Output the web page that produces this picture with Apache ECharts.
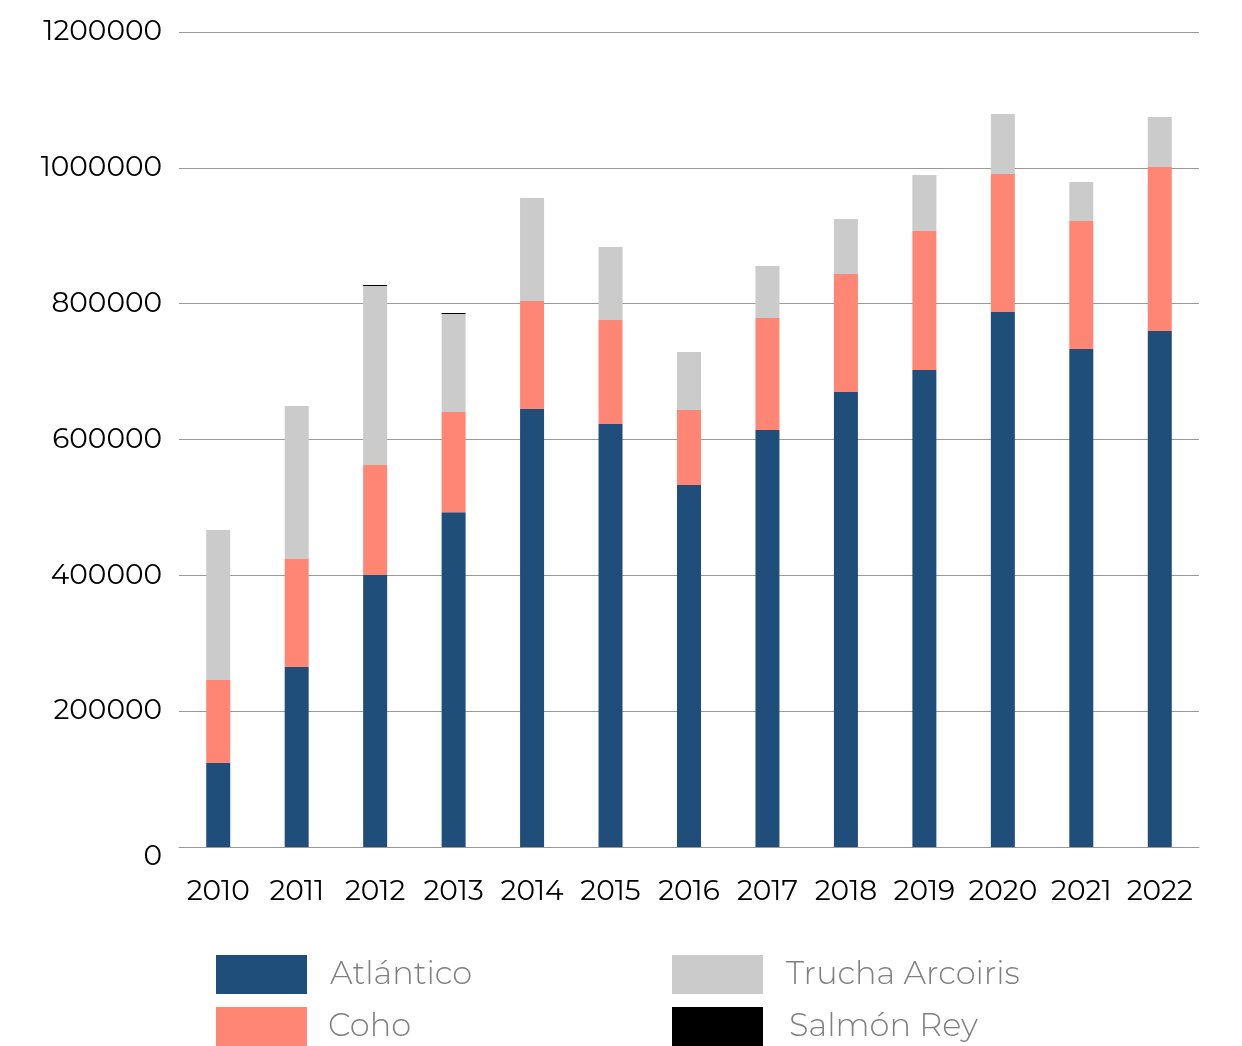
<!DOCTYPE html>
<html><head><meta charset="utf-8">
<script src="https://cdn.jsdelivr.net/npm/echarts@6/dist/echarts.min.js"></script>
<style>html,body{margin:0;padding:0;background:#fff}#c{width:1242px;height:1046px}</style>
</head><body><div id="c"></div>
<script>
const years = ['2010','2011','2012','2013','2014','2015','2016','2017','2018','2019','2020','2021','2022'];
const atlantico = [123700,265000,400500,493000,645000,623000,533000,614000,670000,702300,787700,733300,759800];
const coho = [122200,159000,162000,147500,159000,153000,110400,165000,173700,204700,203200,188400,241400];
const trucha = [220900,225300,263500,144300,151700,107400,85400,76600,81000,82500,88400,57400,73700];
const salmonRey = [0,0,1500,1500,0,0,0,0,0,0,0,0,0];
const yTicks = [0,200000,400000,600000,800000,1000000,1200000];

const font = "Montserrat, 'Noto Sans', 'Open Sans', sans-serif";
const chart = echarts.init(document.getElementById('c'));
const mk = (name, data, color) => ({name, type:'bar', stack:'t', data, barWidth:24, itemStyle:{color}, emphasis:{disabled:true}});
const leg = (name, left, top, pad) => ({data:[name], orient:'horizontal', left, top, padding:0,
  itemWidth:91, itemHeight:39, icon:'rect', selectedMode:false,
  textStyle:{fontFamily:font, fontSize:32, fontWeight:300, color:'#7f7f7f', padding:pad}});
chart.setOption({
  animation:false,
  grid:{left:179, right:43, top:32, bottom:199, containLabel:false},
  legend:[
    leg('Atlántico', 216, 955, [7,0,0,18]),
    leg('Coho', 216, 1007, [10,0,0,16]),
    leg('Trucha Arcoiris', 672, 955, [6,0,0,18]),
    leg('Salmón Rey', 672, 1007, [6,0,0,21])
  ],
  xAxis:{type:'category', data:years, axisTick:{show:false},
    axisLine:{lineStyle:{color:'#999', width:1}},
    axisLabel:{fontFamily:font, fontSize:28, color:'#000', margin:31, interval:0}},
  yAxis:{type:'value', min:0, max:1200000, interval:200000,
    axisLine:{show:false}, axisTick:{show:false},
    splitLine:{lineStyle:{color:'#999', width:1}},
    axisLabel:{fontFamily:font, fontSize:28, color:'#000', margin:17,
      customValues: yTicks,
      formatter: v => v === 0 ? '{z|0}' : String(v),
      rich:{z:{fontFamily:font, fontSize:28, color:'#000', padding:[20,0,0,0]}}}},
  series:[
    mk('Atlántico', atlantico, '#1f4e7a'),
    mk('Coho', coho, '#ff8674'),
    mk('Trucha Arcoiris', trucha, '#cbcbcb'),
    mk('Salmón Rey', salmonRey, '#000000')
  ]
});
</script></body></html>
